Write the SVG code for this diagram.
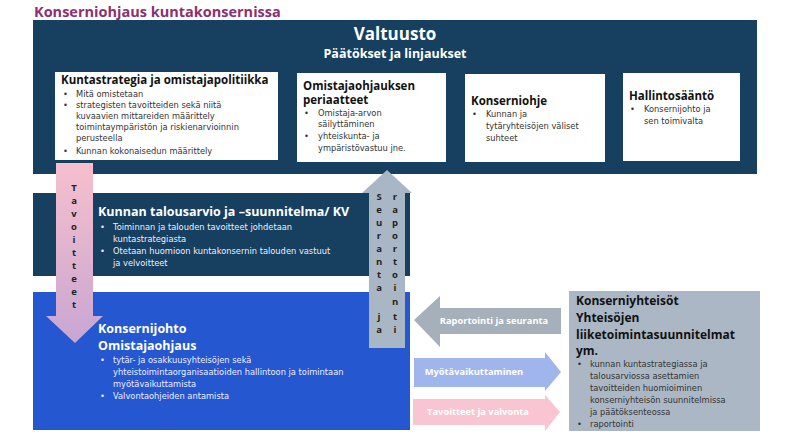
<svg xmlns="http://www.w3.org/2000/svg" width="790" height="444" viewBox="0 0 790 444">
<defs>
<linearGradient id="gd" x1="0" y1="0" x2="0" y2="1"><stop offset="0" stop-color="#F7BFCD"/><stop offset="1" stop-color="#C8A6D2"/></linearGradient>
</defs>
<style>
text{font-family:"Open Sans","DejaVu Sans",sans-serif;}
.h{font-weight:bold;font-size:11.5px;fill:#111;}
.b{font-family:"DejaVu Sans",sans-serif;font-size:8.3px;fill:#333;}
.hw{font-weight:bold;font-size:12.5px;fill:#fff;}
.bw{font-family:"DejaVu Sans",sans-serif;font-size:8.3px;fill:#eef;}
.v{font-weight:bold;font-size:9.5px;fill:#222;text-anchor:middle;}
.a{font-weight:bold;font-size:9.3px;fill:#fff;text-anchor:middle;}
</style>
<rect width="790" height="444" fill="#fff"/>
<text x="34" y="17" style="font-weight:bold;font-size:14.5px;fill:#8E2F6E">Konserniohjaus kuntakonsernissa</text>
<g id="valtuusto">
<rect x="33" y="20" width="724" height="154" fill="#163F60"/>
<text x="395" y="40" text-anchor="middle" style="font-weight:bold;font-size:17px;fill:#fff">Valtuusto</text>
<text x="395" y="58" text-anchor="middle" style="font-weight:bold;font-size:12.5px;fill:#fff">Päätökset ja linjaukset</text>
</g>
<g id="kuntastrategia">
<rect x="55" y="72" width="223" height="88" fill="#fff"/>
<text x="61" y="84" class="h">Kuntastrategia ja omistajapolitiikka</text>
<text class="b"><tspan x="63" y="97">•</tspan><tspan x="76" y="97">Mitä omistetaan</tspan><tspan x="63" y="108">•</tspan><tspan x="76" y="108">strategisten tavoitteiden sekä niitä</tspan><tspan x="76" y="119">kuvaavien mittareiden määrittely</tspan><tspan x="76" y="130">toimintaympäristön ja riskienarvioinnin</tspan><tspan x="76" y="141">perusteella</tspan><tspan x="63" y="154">•</tspan><tspan x="76" y="154">Kunnan kokonaisedun määrittely</tspan></text>
</g>
<g id="periaatteet">
<rect x="297" y="73" width="149" height="89" fill="#fff"/>
<text class="h"><tspan x="303" y="90">Omistajaohjauksen</tspan><tspan x="303" y="104">periaatteet</tspan></text>
<text class="b"><tspan x="304" y="116">•</tspan><tspan x="318" y="116">Omistaja-arvon</tspan><tspan x="318" y="127">säilyttäminen</tspan><tspan x="304" y="139">•</tspan><tspan x="318" y="139">yhteiskunta- ja</tspan><tspan x="318" y="151">ympäristövastuu jne.</tspan></text>
</g>
<g id="konserniohje">
<rect x="465" y="74" width="140" height="88" fill="#fff"/>
<text x="471" y="105" class="h">Konserniohje</text>
<text class="b"><tspan x="472" y="117">•</tspan><tspan x="486" y="117">Kunnan ja</tspan><tspan x="486" y="129">tytäryhteisöjen väliset</tspan><tspan x="486" y="141">suhteet</tspan></text>
</g>
<g id="hallintosaanto">
<rect x="623" y="73" width="117" height="88" fill="#fff"/>
<text x="629" y="100" class="h">Hallintosääntö</text>
<text class="b"><tspan x="630" y="112">•</tspan><tspan x="644" y="112">Konsernijohto ja</tspan><tspan x="644" y="124">sen toimivalta</tspan></text>
</g>
<g id="talousarvio">
<rect x="33" y="193" width="377" height="83" fill="#163F60"/>
<text x="98" y="216" class="hw">Kunnan talousarvio ja –suunnitelma/ KV</text>
<text class="bw"><tspan x="100" y="230">•</tspan><tspan x="113" y="230">Toiminnan ja talouden tavoitteet johdetaan</tspan><tspan x="113" y="242">kuntastrategiasta</tspan><tspan x="100" y="254">•</tspan><tspan x="113" y="254">Otetaan huomioon kuntakonsernin talouden vastuut</tspan><tspan x="113" y="266">ja velvoitteet</tspan></text>
</g>
<g id="konsernijohto">
<rect x="33" y="292" width="377" height="138" fill="#2457D0"/>
<text class="hw"><tspan x="98" y="333">Konsernijohto</tspan><tspan x="98" y="350">Omistajaohjaus</tspan></text>
<text class="bw"><tspan x="100" y="363">•</tspan><tspan x="113" y="363">tytär- ja osakkuusyhteisöjen sekä</tspan><tspan x="113" y="375">yhteistoimintaorganisaatioiden hallintoon ja toimintaan</tspan><tspan x="113" y="387">myötävaikuttamista</tspan><tspan x="100" y="399">•</tspan><tspan x="113" y="399">Valvontaohjeiden antamista</tspan></text>
</g>
<g id="konserniyhteisot">
<rect x="569" y="291" width="191" height="140" fill="#ABB7C4"/>
<text class="h" style="font-size:12px"><tspan x="576" y="305">Konserniyhteisöt</tspan><tspan x="576" y="322">Yhteisöjen</tspan><tspan x="576" y="339">liiketoimintasuunnitelmat</tspan><tspan x="576" y="355">ym.</tspan></text>
<text class="b"><tspan x="577" y="367">•</tspan><tspan x="590" y="367">kunnan kuntastrategiassa ja</tspan><tspan x="590" y="379">talousarviossa asettamien</tspan><tspan x="590" y="391">tavoitteiden huomioiminen</tspan><tspan x="590" y="403">konserniyhteisön suunnitelmissa</tspan><tspan x="590" y="415">ja päätöksenteossa</tspan><tspan x="577" y="427">•</tspan><tspan x="590" y="427">raportointi</tspan></text>
</g>
<g id="connectors">
<polygon points="56,163 93,163 93,316 103,316 75,343 46,316 56,316" fill="url(#gd)"/>
<text class="v"><tspan x="74" y="191">T</tspan><tspan x="74" y="204">a</tspan><tspan x="74" y="217">v</tspan><tspan x="74" y="230">o</tspan><tspan x="74" y="243">i</tspan><tspan x="74" y="256">t</tspan><tspan x="74" y="269">t</tspan><tspan x="74" y="282">e</tspan><tspan x="74" y="295">e</tspan><tspan x="74" y="308">t</tspan></text>
<polygon points="369,348 405,348 405,193 412,193 387,170 362,193 369,193" fill="#A9B6C5"/>
<text class="v"><tspan x="379" y="200">S</tspan><tspan x="379" y="213">e</tspan><tspan x="379" y="226">u</tspan><tspan x="379" y="239">r</tspan><tspan x="379" y="252">a</tspan><tspan x="379" y="265">n</tspan><tspan x="379" y="278">t</tspan><tspan x="379" y="291">a</tspan><tspan x="379" y="320">j</tspan><tspan x="379" y="333">a</tspan></text>
<text class="v"><tspan x="395" y="200">r</tspan><tspan x="395" y="213">a</tspan><tspan x="395" y="226">p</tspan><tspan x="395" y="239">o</tspan><tspan x="395" y="252">r</tspan><tspan x="395" y="265">t</tspan><tspan x="395" y="278">o</tspan><tspan x="395" y="291">i</tspan><tspan x="395" y="305">n</tspan><tspan x="395" y="320">t</tspan><tspan x="395" y="333">i</tspan></text>
<polygon points="414,320 440,296 440,308 561,308 561,334 440,334 440,347" fill="#A6B0BB"/>
<text x="494" y="324" class="a">Raportointi ja seuranta</text>
<polygon points="414,358 545,358 545,352 561,372 545,391 545,387 414,387" fill="#9FB5EC"/>
<text x="474" y="375" class="a">Myötävaikuttaminen</text>
<polygon points="413,399 545,399 545,395 560,412 545,431 545,425 413,425" fill="#F9C5D2"/>
<text x="478" y="415" class="a">Tavoitteet ja valvonta</text>
</g>
</svg>
